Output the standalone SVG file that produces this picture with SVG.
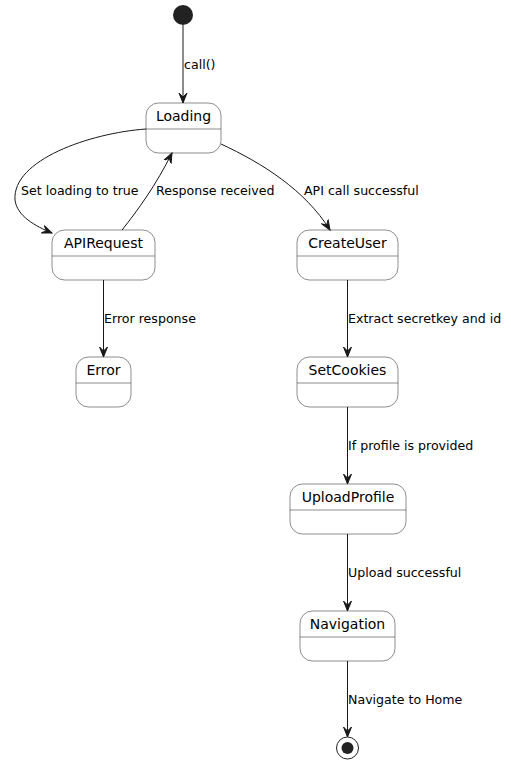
<svg xmlns="http://www.w3.org/2000/svg" width="511" height="765" viewBox="0 0 511 765">
<style>
.st{fill:#ffffff;stroke:#181818;stroke-width:0.5}
.sep{stroke:#181818;stroke-width:0.5}
.nm{font-family:"DejaVu Sans",sans-serif;font-size:14px;fill:#000;text-anchor:middle}
.lb{font-family:"DejaVu Sans",sans-serif;font-size:12.6px;fill:#000}
.e{fill:none;stroke:#181818;stroke-width:1}
</style>
<defs>
<marker id="ah" viewBox="0 0 12 10" refX="10" refY="5" markerWidth="12" markerHeight="10" markerUnits="userSpaceOnUse" orient="auto">
<path d="M0,1 L10,5 L0,9 L4,5 Z" fill="#181818" stroke="#181818" stroke-width="1"/>
</marker>
</defs>
<rect width="511" height="765" fill="#ffffff"/>
<g id="start"><circle cx="183" cy="15" r="10" fill="#222222"/></g>
<g id="Loading"><rect class="st" x="146" y="103" width="75" height="50" rx="12.5"/><line class="sep" x1="146" y1="129" x2="221" y2="129"/><text class="nm" x="183.5" y="121">Loading</text></g>
<g id="APIRequest"><rect class="st" x="52" y="230" width="103" height="50" rx="12.5"/><line class="sep" x1="52" y1="256" x2="155" y2="256"/><text class="nm" x="103.5" y="248">APIRequest</text></g>
<g id="CreateUser"><rect class="st" x="297" y="230" width="101" height="50" rx="12.5"/><line class="sep" x1="297" y1="256" x2="398" y2="256"/><text class="nm" x="347.5" y="248">CreateUser</text></g>
<g id="Error"><rect class="st" x="76" y="357" width="55" height="50" rx="12.5"/><line class="sep" x1="76" y1="383" x2="131" y2="383"/><text class="nm" x="103.5" y="375">Error</text></g>
<g id="SetCookies"><rect class="st" x="297" y="357" width="101" height="50" rx="12.5"/><line class="sep" x1="297" y1="383" x2="398" y2="383"/><text class="nm" x="347.5" y="375">SetCookies</text></g>
<g id="UploadProfile"><rect class="st" x="290" y="484" width="116" height="50" rx="12.5"/><line class="sep" x1="290" y1="510" x2="406" y2="510"/><text class="nm" x="348" y="502">UploadProfile</text></g>
<g id="Navigation"><rect class="st" x="300" y="611" width="95" height="50" rx="12.5"/><line class="sep" x1="300" y1="637" x2="395" y2="637"/><text class="nm" x="347.5" y="629">Navigation</text></g>
<g id="end"><circle cx="347.5" cy="748" r="11" fill="none" stroke="#222222" stroke-width="1"/><circle cx="347.5" cy="748" r="6" fill="#222222"/></g>
<g id="connectors">
<path class="e" marker-end="url(#ah)" d="M183,25 L183,103"/>
<text class="lb" x="184" y="69">call()</text>
<path class="e" marker-end="url(#ah)" d="M146,129 C90,133 12,160 15,200 C17,216 35,226 52,233"/>
<text class="lb" x="21" y="195">Set loading to true</text>
<path class="e" marker-end="url(#ah)" d="M122,230 C138,210 156,185 172,153"/>
<text class="lb" x="156" y="195">Response received</text>
<path class="e" marker-end="url(#ah)" d="M221,144 C262,163 305,190 330,230"/>
<text class="lb" x="304" y="195">API call successful</text>
<path class="e" marker-end="url(#ah)" d="M103.5,280 L103.5,357"/>
<text class="lb" x="104" y="323">Error response</text>
<path class="e" marker-end="url(#ah)" d="M347.5,280 L347.5,357"/>
<text class="lb" x="348" y="323">Extract secretkey and id</text>
<path class="e" marker-end="url(#ah)" d="M347.5,407 L347.5,484"/>
<text class="lb" x="348" y="450">If profile is provided</text>
<path class="e" marker-end="url(#ah)" d="M347.5,534 L347.5,611"/>
<text class="lb" x="348" y="577">Upload successful</text>
<path class="e" marker-end="url(#ah)" d="M347.5,661 L347.5,737"/>
<text class="lb" x="348" y="704">Navigate to Home</text>
</g>
</svg>
